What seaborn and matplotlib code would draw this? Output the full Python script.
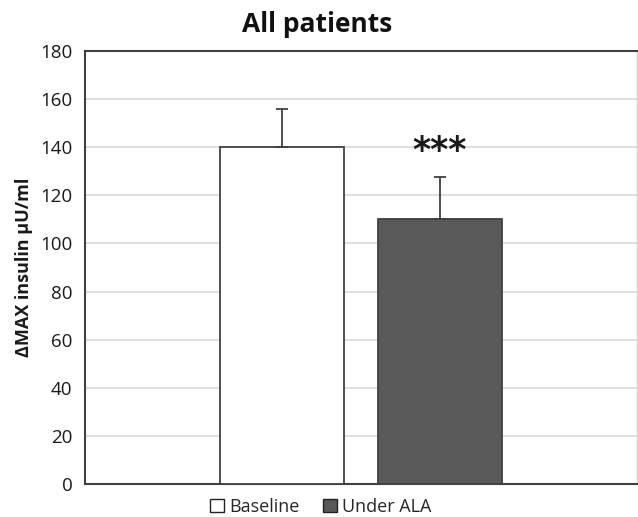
import matplotlib
matplotlib.use("Agg")
import matplotlib.pyplot as plt
import seaborn as sns
import pandas as pd
from matplotlib.patches import Patch

# ---- data ----
groups = ["Baseline", "Under ALA"]
means = [140, 110]
errors = [16, 17.5]
bar_colors = ["#ffffff", "#595959"]
yticks = [0, 20, 40, 60, 80, 100, 120, 140, 160, 180]
title = "All patients"
ylabel = "ΔMAX insulin µU/ml"
signif = "***"

sns.set_theme(style="white")
plt.rcParams["font.family"] = ["Open Sans", "DejaVu Sans"]

df = pd.DataFrame({"cat": ["All"] * len(groups), "group": groups, "value": means})

fig = plt.figure(figsize=(6.38, 5.17), dpi=100)
ax = fig.add_axes([85 / 638, 33 / 517, 552 / 638, 433 / 517])

sns.barplot(data=df, x="cat", y="value", hue="group", hue_order=groups,
            palette=bar_colors, errorbar=None, gap=0.209, width=0.893,
            edgecolor="#404040", linewidth=1.3, legend=False, ax=ax, zorder=3)

# error bars (upper only)
for p, err in zip(ax.patches, errors):
    xc = p.get_x() + p.get_width() / 2
    h = p.get_height()
    ax.errorbar([xc], [h], yerr=[[0], [err]], fmt="none", ecolor="#404040",
                elinewidth=1.3, capsize=4, capthick=1.3, zorder=4)

# significance marker above second bar
p2 = ax.patches[1]
ax.text(p2.get_x() + p2.get_width() / 2, 138.5, signif, ha="center", va="center",
        fontsize=25, fontweight="bold", color="#1a1a1a", family="DejaVu Sans")

ax.set_xlim(-0.78, 0.78)
ax.set_ylim(0, 180)
ax.set_yticks(yticks)
ax.set_yticklabels([str(t) for t in yticks], fontsize=13.5, color="#1a1a1a")
ax.set_xticks([-0.78])
ax.set_xticklabels([""])
ax.tick_params(axis="x", direction="inout", length=10, width=1.3, color="#404040")
ax.tick_params(axis="y", direction="out", length=5, width=1.3, color="#404040", pad=4)
ax.set_xlabel("")
ax.set_ylabel(ylabel, fontsize=13, fontweight="bold", color="#1a1a1a", labelpad=5)

ax.yaxis.grid(True, color="#d9d9d9", linewidth=1.2, zorder=0)
ax.set_axisbelow(True)

for s in ["left", "bottom", "top"]:
    ax.spines[s].set_color("#404040")
    ax.spines[s].set_linewidth(1.5)
ax.spines["right"].set_color("#d0d0d0")
ax.spines["right"].set_linewidth(1.0)

fig.text(317 / 638, 1 - 24 / 517, title, ha="center", va="center",
         fontsize=19, fontweight="bold", color="#111111")

handles = [Patch(facecolor=c, edgecolor="#222222", linewidth=1.0) for c in bar_colors]
fig.legend(handles, groups, loc="center", bbox_to_anchor=(321 / 638, 1 - 507 / 517),
           ncol=2, frameon=False, fontsize=13, handlelength=0.75, handleheight=0.75,
           handletextpad=0.3, columnspacing=1.3)

fig.savefig("out.png", dpi=100)
